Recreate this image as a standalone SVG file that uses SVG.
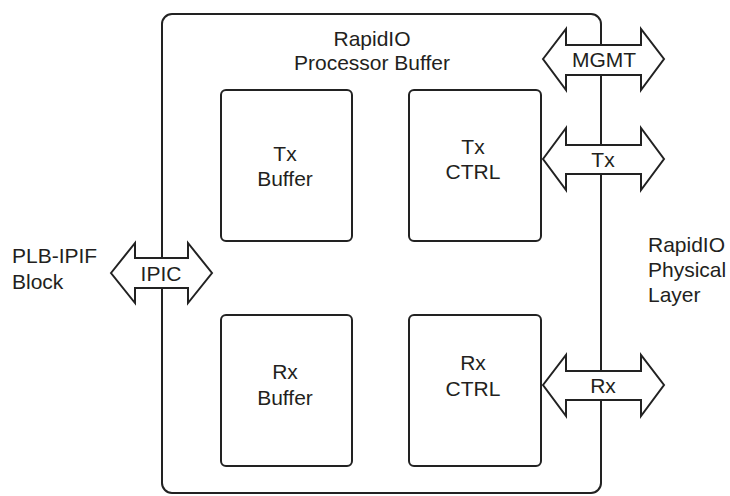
<svg xmlns="http://www.w3.org/2000/svg" width="730" height="496" viewBox="0 0 730 496">
<style>
.box{fill:#fff;stroke:#222;stroke-width:2}
.arr{fill:#fff;stroke:#222;stroke-width:2;stroke-linejoin:miter}
text{font-family:"Liberation Sans",Arial,sans-serif;font-size:21px;fill:#231f20}
.c{text-anchor:middle}
</style>
<rect width="730" height="496" fill="#fff"/>
<g id="processor-buffer">
<rect class="box" x="162" y="14" width="439" height="479" rx="10"/>
<text class="c" x="372" y="46">RapidIO</text>
<text class="c" x="372" y="70">Processor Buffer</text>
</g>
<g id="tx-buffer">
<rect class="box" x="221" y="90" width="131" height="151" rx="5"/>
<text class="c" x="285" y="161">Tx</text>
<text class="c" x="285" y="186">Buffer</text>
</g>
<g id="tx-ctrl">
<rect class="box" x="409" y="90" width="132" height="151" rx="5"/>
<text class="c" x="473" y="154">Tx</text>
<text class="c" x="473" y="179">CTRL</text>
</g>
<g id="rx-buffer">
<rect class="box" x="221" y="315" width="131" height="151" rx="5"/>
<text class="c" x="285" y="379">Rx</text>
<text class="c" x="285" y="405">Buffer</text>
</g>
<g id="rx-ctrl">
<rect class="box" x="409" y="315" width="132" height="151" rx="5"/>
<text class="c" x="473" y="370">Rx</text>
<text class="c" x="473" y="396">CTRL</text>
</g>
<g id="connectors">
<g id="ipic">
<polygon class="arr" points="111,273 135,243 135,258 188,258 188,243 212,273 188,303 188,288 135,288 135,303"/>
<text class="c" x="161" y="281">IPIC</text>
</g>
<g id="mgmt">
<polygon class="arr" points="543,59 566,29 566,45 641,45 641,29 664,59 641,90 641,75 566,75 566,90"/>
<text class="c" x="604" y="67">MGMT</text>
</g>
<g id="tx">
<polygon class="arr" points="543,159 566,128 566,145 641,145 641,128 664,159 641,190 641,174 566,174 566,190"/>
<text class="c" x="603" y="167">Tx</text>
</g>
<g id="rx">
<polygon class="arr" points="543,385 566,355 566,371 641,371 641,355 664,385 641,416 641,400 566,400 566,416"/>
<text class="c" x="603" y="393">Rx</text>
</g>
</g>
<g id="plb-ipif">
<text x="12" y="263">PLB-IPIF</text>
<text x="12" y="289">Block</text>
</g>
<g id="physical-layer">
<text x="648" y="252">RapidIO</text>
<text x="648" y="277">Physical</text>
<text x="648" y="302">Layer</text>
</g>
</svg>
